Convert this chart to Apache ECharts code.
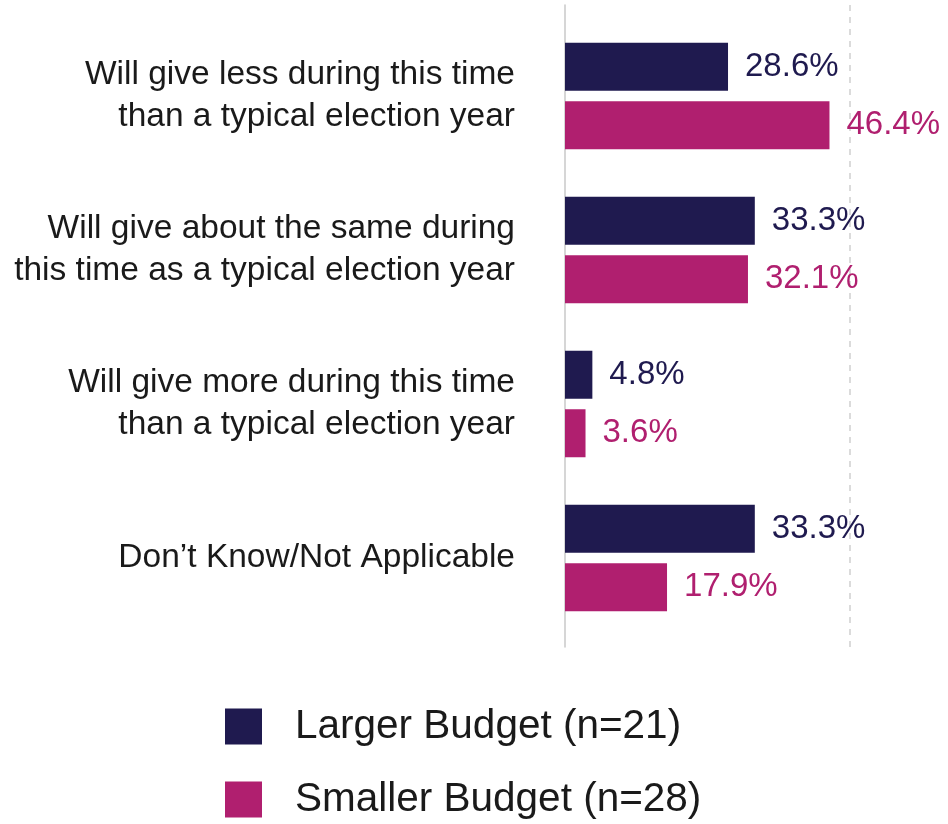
<!DOCTYPE html>
<html>
<head>
<meta charset="utf-8">
<script src="https://cdn.jsdelivr.net/npm/echarts@6/dist/echarts.min.js"></script>
<style>
  html, body { margin: 0; padding: 0; background: #ffffff; }
  #chart { width: 948px; height: 824px; }
</style>
</head>
<body>
<div id="chart"></div>
<script>
// Survey answers (percent of respondents) by budget size
const categories = [
  'Will give less during this time\nthan a typical election year',
  'Will give about the same during\nthis time as a typical election year',
  'Will give more during this time\nthan a typical election year',
  'Don\u2019t Know/Not Applicable'
];
const seriesNames = ['Larger Budget (n=21)', 'Smaller Budget (n=28)'];
const largerBudget = [28.6, 33.3, 4.8, 33.3];
const smallerBudget = [46.4, 32.1, 3.6, 17.9];
const axisTicks = [0, 50];

const NAVY = '#1f1a4f';
const PINK = '#b01f6f';
const FONT = '"Liberation Sans", Arial, sans-serif';

const chart = echarts.init(document.getElementById('chart'), null, { renderer: 'canvas' });

function barSeries(name, data, color) {
  return {
    name: name,
    type: 'bar',
    xAxisIndex: 0,
    yAxisIndex: 0,
    data: data,
    barWidth: 48,
    barGap: '22%',
    itemStyle: { color: color },
    label: {
      show: true,
      position: 'right',
      distance: 17,
      formatter: p => p.value.toFixed(1) + '%',
      color: color,
      fontFamily: FONT,
      fontSize: 33
    }
  };
}

chart.setOption({
  animation: false,
  backgroundColor: '#ffffff',
  grid: [
    // bars
    { left: 565, right: 98, top: 19, bottom: 189 },
    // baseline and 50% reference line
    { left: 565, right: 98, top: 5, bottom: 177 }
  ],
  xAxis: [
    {
      gridIndex: 0, type: 'value',
      min: axisTicks[0], max: axisTicks[1], interval: 50,
      axisLine: { show: false }, axisTick: { show: false },
      axisLabel: { show: false }, splitLine: { show: false }
    },
    {
      gridIndex: 1, type: 'value',
      min: axisTicks[0], max: axisTicks[1], interval: 50,
      axisLine: { show: false }, axisTick: { show: false },
      axisLabel: { show: false },
      splitLine: {
        show: true, showMinLine: false,
        lineStyle: { color: '#cfcfcf', width: 1.5, type: [6, 6] }
      }
    }
  ],
  yAxis: [
    {
      gridIndex: 0, type: 'category', inverse: true,
      data: categories,
      axisLine: { show: false }, axisTick: { show: false },
      axisLabel: {
        margin: 50,
        color: '#1a1a1a',
        fontFamily: FONT,
        fontSize: 33.5,
        lineHeight: 42,
        align: 'right'
      }
    },
    {
      gridIndex: 1, type: 'category', data: [''],
      axisLine: { show: true, lineStyle: { color: '#c8c8c8', width: 1.5 } },
      axisTick: { show: false }, axisLabel: { show: false }
    }
  ],
  legend: {
    orient: 'vertical',
    left: 225,
    top: 706,
    padding: 0,
    itemWidth: 37,
    itemHeight: 36,
    itemGap: 32,
    icon: 'rect',
    data: seriesNames,
    textStyle: {
      color: '#1a1a1a',
      fontFamily: FONT,
      fontSize: 40.5,
      lineHeight: 40,
      padding: [0, 0, 0, 28]
    }
  },
  series: [
    barSeries(seriesNames[0], largerBudget, NAVY),
    barSeries(seriesNames[1], smallerBudget, PINK)
  ]
});
</script>
</body>
</html>
